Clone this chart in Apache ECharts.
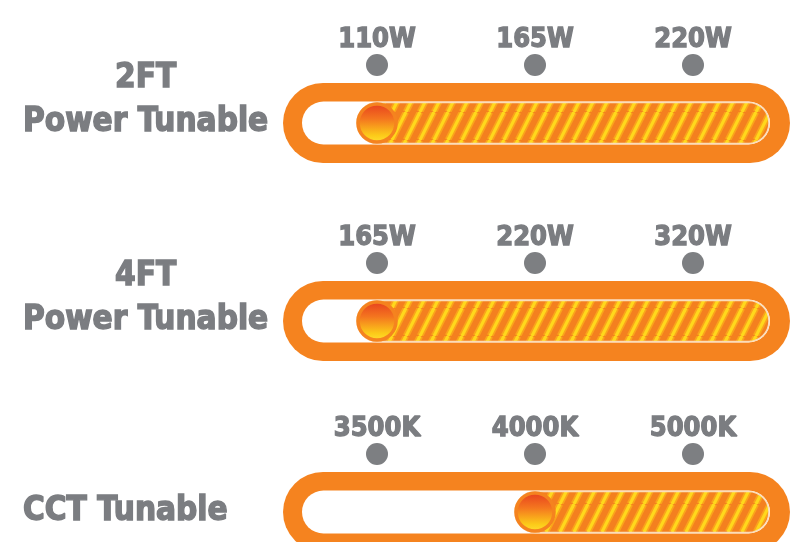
<!DOCTYPE html>
<html>
<head>
<meta charset="utf-8">
<script src="https://cdn.jsdelivr.net/npm/echarts@6/dist/echarts.min.js"></script>
<style>
html,body{margin:0;padding:0;background:#fff;}
#chart{width:800px;height:542px;}
</style>
</head>
<body>
<div id="chart"></div>
<script>
// ---- data ----
const rowNames = ['2FT\nPower Tunable', '4FT\nPower Tunable', 'CCT Tunable'];
const ticks2ft = ['110W', '165W', '220W'];
const ticks4ft = ['165W', '220W', '320W'];
const ticksCct = ['3500K', '4000K', '5000K'];
const currentSetting = ['110W', '165W', '4000K'];

// ---- layout / style ----
const tickSets = [ticks2ft, ticks4ft, ticksCct];
const rowCenters = [123, 321, 512];
const GRID_LEFT = 298, GRID_WIDTH = 474, HALF = 60;
const FONT = "'DejaVu Sans Condensed', 'Liberation Sans Narrow', 'Liberation Sans', sans-serif";
const GRAY = '#7B7D81';
const ORANGE = '#F5831F';

function makeStripes() {
  const w = 14, h = 28;
  const c = document.createElement('canvas');
  c.width = w; c.height = h;
  const g = c.getContext('2d');
  g.fillStyle = '#F4801F';
  g.fillRect(0, 0, w, h);
  for (const dx of [-w, 0, w]) {
    g.strokeStyle = '#FAA41B'; g.lineWidth = 6.5;
    g.beginPath(); g.moveTo(dx, h); g.lineTo(dx + w, 0); g.stroke();
    g.strokeStyle = '#FFD81C'; g.lineWidth = 3.2;
    g.beginPath(); g.moveTo(dx, h); g.lineTo(dx + w, 0); g.stroke();
  }
  return c;
}
const stripeImg = makeStripes();

const grids = [], xAxes = [], yAxes = [], series = [];
rowNames.forEach((name, i) => {
  const c = rowCenters[i];
  const nLines = name.split('\n').length;
  grids.push({ left: GRID_LEFT, width: GRID_WIDTH, top: c - HALF, height: HALF * 2, outerBoundsMode: 'none', containLabel: false });
  xAxes.push({
    type: 'category', gridIndex: i, position: 'top', data: tickSets[i],
    axisLine: { show: false }, axisTick: { show: false }, splitLine: { show: false },
    axisLabel: { interval: 0, margin: 10, fontSize: 27, fontWeight: 'bold', color: GRAY, fontFamily: FONT,
      textBorderColor: GRAY, textBorderWidth: 1.3 }
  });
  yAxes.push({
    type: 'category', gridIndex: i, data: [name],
    axisLine: { show: false }, axisTick: { show: false }, splitLine: { show: false },
    axisLabel: {
      margin: GRID_LEFT - 23, align: 'left', verticalAlign: 'middle',
      padding: [0, 0, 44 * nLines - 42, 0],
      formatter: (v) => v.split('\n').map(s => '{t|' + s + '}').join('\n'),
      rich: { t: { align: 'center', fontSize: 33, lineHeight: 44, fontWeight: 'bold', color: GRAY, fontFamily: FONT,
        textBorderColor: GRAY, textBorderWidth: 1.4 } }
    }
  });
  series.push({
    type: 'custom', xAxisIndex: i, yAxisIndex: i, clip: false, silent: true, z: 1,
    data: [[currentSetting[i], name]],
    renderItem: (params, api) => {
      const p = api.coord([api.value(0), api.value(1)]);
      const cs = params.coordSys;
      const cy = p[1];
      const oL = cs.x - 15, oR = cs.x + cs.width + 18;
      const iL = oL + 19, iR = oR - 20;
      const kr = 20;
      return {
        type: 'group',
        children: [
          { type: 'rect', shape: { x: oL, y: cy - 40, width: oR - oL, height: 80, r: 40 }, style: { fill: ORANGE } },
          { type: 'rect', shape: { x: iL, y: cy - 21.5, width: iR - iL, height: 43, r: 21.5 }, style: { fill: '#FFFFFF' } },
          { type: 'rect', shape: { x: p[0] - kr, y: cy - 20.5, width: iR - 1 - (p[0] - kr), height: 41, r: 20.5 },
            style: { fill: { image: stripeImg, repeat: 'repeat' }, stroke: '#FBDDB8', lineWidth: 1.5 } },
          { type: 'circle', shape: { cx: p[0], cy: cy, r: kr - 1 },
            style: {
              fill: new echarts.graphic.LinearGradient(0, 0, 0, 1, [
                { offset: 0, color: '#E63B1E' },
                { offset: 0.4, color: '#F4761F' },
                { offset: 0.8, color: '#FCCB19' },
                { offset: 1, color: '#FFE233' }
              ]),
              stroke: ORANGE, lineWidth: 3.5
            } }
        ]
      };
    }
  });
  series.push({
    type: 'scatter', xAxisIndex: i, yAxisIndex: i, silent: true, z: 3,
    data: tickSets[i].map(t => [t, name]),
    symbol: 'circle', symbolSize: 22, symbolOffset: [0, -58],
    itemStyle: { color: '#7D7F82', opacity: 1 }
  });
});

const chart = echarts.init(document.getElementById('chart'), null, { renderer: 'canvas' });
chart.setOption({
  backgroundColor: '#FFFFFF',
  animation: false,
  tooltip: { show: false },
  grid: grids, xAxis: xAxes, yAxis: yAxes, series: series
});
</script>
</body>
</html>
